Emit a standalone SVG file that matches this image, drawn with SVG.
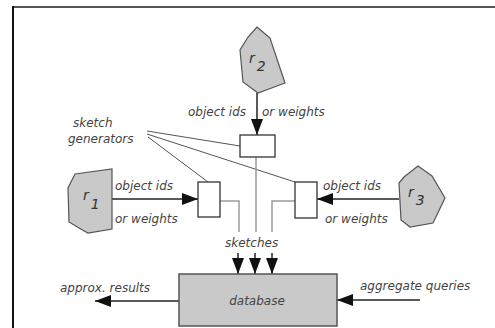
<svg xmlns="http://www.w3.org/2000/svg" width="495" height="328" viewBox="0 0 495 328">
<style>
.t{font-family:"DejaVu Sans",sans-serif;font-style:italic;font-size:12px;fill:#444}
.r{font-family:"DejaVu Sans",sans-serif;font-style:italic;font-size:14px;fill:#333}
.shape{fill:#c9c9c9;stroke:#555;stroke-width:1.2}
.box{fill:#fff;stroke:#333;stroke-width:1.3}
.flow{stroke:#222;stroke-width:1.5;fill:none}
.sk{stroke:#9a9a9a;stroke-width:1.5;fill:none}
.gen{stroke:#555;stroke-width:1;fill:none}
</style>
<defs>
<marker id="ah" viewBox="0 0 16 12" refX="16" refY="6" markerWidth="16" markerHeight="12" markerUnits="userSpaceOnUse" orient="auto">
<path d="M0,0 L16,6 L0,12 z" fill="#111"/>
</marker>
</defs>
<rect width="495" height="328" fill="#fff"/>
<line x1="13" y1="7" x2="495" y2="7" stroke="#555" stroke-width="2"/>
<line x1="13" y1="6" x2="13" y2="328" stroke="#111" stroke-width="2"/>

<g id="connectors">
<line class="flow" x1="257" y1="93" x2="257" y2="135" marker-end="url(#ah)"/>
<line class="flow" x1="112" y1="199" x2="198" y2="199" marker-end="url(#ah)"/>
<line class="flow" x1="399" y1="199" x2="317" y2="199" marker-end="url(#ah)"/>
<line class="gen" x1="147" y1="131" x2="240" y2="146"/>
<line class="gen" x1="147" y1="134" x2="295" y2="182"/>
<line class="gen" x1="148" y1="137" x2="208" y2="182"/>
<line class="sk" x1="256" y1="157" x2="256" y2="232"/>
<polyline class="sk" points="220,201 239,201 239,232"/>
<polyline class="sk" points="295,201 272,201 272,232"/>
<line class="flow" x1="238" y1="253" x2="238" y2="274" marker-end="url(#ah)"/>
<line class="flow" x1="255" y1="253" x2="255" y2="274" marker-end="url(#ah)"/>
<line class="flow" x1="272" y1="253" x2="272" y2="274" marker-end="url(#ah)"/>
<line class="flow" x1="179" y1="301" x2="95" y2="301" marker-end="url(#ah)"/>
<line class="flow" x1="420" y1="300" x2="337" y2="300" marker-end="url(#ah)"/>
</g>

<g id="r2">
<polygon class="shape" points="257,27 270,38 285,83 258,93 243,82 240,50 248,37"/>
<text class="r" x="249" y="63">r<tspan dx="2" dy="8">2</tspan></text>
</g>
<g id="r1">
<polygon class="shape" points="75,174 112,169 112,229 88,233 79,228 69,222 68,188"/>
<text class="r" x="83" y="200">r<tspan dx="2" dy="9">1</tspan></text>
</g>
<g id="r3">
<polygon class="shape" points="418,166 432,176 445,198 433,223 410,227 401,220 399,183 404,177"/>
<text class="r" x="408" y="197">r<tspan dx="2" dy="8">3</tspan></text>
</g>
<g id="gen2"><rect class="box" x="240" y="135" width="35" height="22"/></g>
<g id="gen1"><rect class="box" x="198" y="182" width="22" height="35"/></g>
<g id="gen3"><rect class="box" x="295" y="182" width="22" height="36"/></g>
<g id="database">
<rect x="179" y="274" width="158" height="52" fill="#c9c9c9" stroke="#555" stroke-width="1.5"/>
<text class="t" x="257" y="305" text-anchor="middle">database</text>
</g>

<g id="labels">
<text class="t" x="188" y="116">object ids</text>
<text class="t" x="262" y="116">or weights</text>
<text class="t" x="73" y="127">sketch</text>
<text class="t" x="68" y="143">generators</text>
<text class="t" x="115" y="190">object ids</text>
<text class="t" x="115" y="223">or weights</text>
<text class="t" x="323" y="190">object ids</text>
<text class="t" x="325" y="223">or weights</text>
<text class="t" x="225" y="247">sketches</text>
<text class="t" x="60" y="292">approx. results</text>
<text class="t" x="360" y="290">aggregate queries</text>
</g>
</svg>
